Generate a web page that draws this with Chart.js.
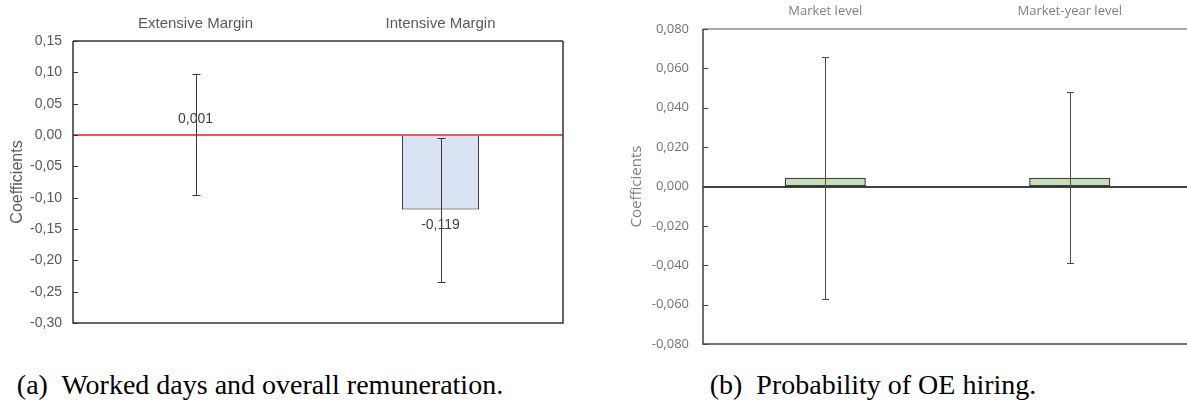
<!DOCTYPE html>
<html>
<head>
<meta charset="utf-8">
<script src="https://cdn.jsdelivr.net/npm/chart.js@4/dist/chart.umd.min.js"></script>
<style>
  html, body { margin: 0; padding: 0; background: #fff; }
  body { position: relative; width: 1187px; height: 405px; overflow: hidden; }
  .panel { position: absolute; top: 0; }
  #wrapA { left: 0; width: 600px; height: 335px; }
  #wrapB { left: 600px; width: 600px; height: 360px; }
  .cap {
    position: absolute; top: 371px;
    font-family: "Liberation Serif", serif; font-size: 28px; line-height: 1;
    white-space: pre; color: #000; transform: translateX(-50%);
  }
</style>
</head>
<body>
<div class="panel" id="wrapA"><canvas id="chartA"></canvas></div>
<div class="panel" id="wrapB"><canvas id="chartB"></canvas></div>
<div class="cap" style="left:260px">(a)  Worked days and overall remuneration.</div>
<div class="cap" style="left:873px">(b)  Probability of OE hiring.</div>

<script>
// (a) Worked days and overall remuneration
const marginCategories = ['Extensive Margin', 'Intensive Margin'];
const marginCoef = [0.001, -0.119];
const marginLow = [-0.095, -0.234];
const marginHigh = [0.097, -0.004];
const marginTickValues = [-0.30, -0.25, -0.20, -0.15, -0.10, -0.05, 0.00, 0.05, 0.10, 0.15];

// (b) Probability of OE hiring
const hiringCategories = ['Market level', 'Market-year level'];
const hiringCoef = [0.0045, 0.0045];
const hiringLow = [-0.057, -0.039];
const hiringHigh = [0.066, 0.048];
const hiringTickValues = [-0.080, -0.060, -0.040, -0.020, 0.000, 0.020, 0.040, 0.060, 0.080];

const commaFixed = (v, d) => v.toFixed(d).replace('.', ',');

// snap a coordinate so a line of the given width lands on whole pixels
const snap = (p, w) => (Math.round(w) % 2 === 1 ? Math.round(p) + 0.5 : Math.round(p));

// fixed-size value axis: the plot box is set by the layout padding alone
const fixAxisWidth = w => s => { s.width = w; s.paddingTop = 0; s.paddingBottom = 0; };

// Frame, zero line, inward tick marks, confidence whiskers and value labels
const decorations = {
  id: 'decorations',
  afterDatasetsDraw(chart, args, o) {
    const { ctx, chartArea: a, scales: { y } } = chart;
    const meta = chart.getDatasetMeta(0);
    const L = snap(a.left, o.frameWidth), R = snap(a.right, o.frameWidth);
    const T = snap(a.top, o.frameWidth), B = snap(a.bottom, o.frameWidth);
    ctx.save();

    // zero reference line
    const y0 = snap(y.getPixelForValue(0), o.zeroWidth);
    ctx.strokeStyle = o.zeroColor; ctx.lineWidth = o.zeroWidth;
    ctx.beginPath(); ctx.moveTo(L, y0); ctx.lineTo(R, y0); ctx.stroke();

    // plot frame
    ctx.lineWidth = o.frameWidth;
    ctx.strokeStyle = o.frameTop;
    ctx.beginPath(); ctx.moveTo(L, T); ctx.lineTo(R, T); ctx.stroke();
    ctx.strokeStyle = o.frameColor;
    ctx.beginPath();
    ctx.moveTo(R, T); ctx.lineTo(R, B); ctx.lineTo(L, B); ctx.lineTo(L, T);
    ctx.stroke();

    // tick marks pointing into the plot
    ctx.lineWidth = 1; ctx.strokeStyle = o.frameColor;
    y.ticks.forEach(t => {
      const py = snap(y.getPixelForValue(t.value), 1);
      ctx.beginPath(); ctx.moveTo(L, py); ctx.lineTo(L + 5, py); ctx.stroke();
    });

    // confidence interval whiskers
    ctx.strokeStyle = o.errColor; ctx.lineWidth = 1;
    meta.data.forEach((bar, i) => {
      const x = snap(bar.x, 1);
      const yl = snap(y.getPixelForValue(o.low[i]), 1);
      const yh = snap(y.getPixelForValue(o.high[i]), 1);
      ctx.beginPath();
      ctx.moveTo(x, yl); ctx.lineTo(x, yh);
      ctx.moveTo(x - o.cap, yl); ctx.lineTo(x + o.cap, yl);
      ctx.moveTo(x - o.cap, yh); ctx.lineTo(x + o.cap, yh);
      ctx.stroke();
    });

    // value labels beyond the bar end
    if (o.labels) {
      ctx.fillStyle = o.labelColor; ctx.font = o.labelFont;
      ctx.textAlign = 'center'; ctx.textBaseline = 'middle';
      meta.data.forEach((bar, i) => {
        const v = chart.data.datasets[0].data[i];
        const ly = v >= 0 ? bar.y - 15 : bar.y + 16;
        ctx.fillText(commaFixed(v, 3), bar.x, ly);
      });
    }
    ctx.restore();
  }
};

new Chart(document.getElementById('chartA'), {
  type: 'bar',
  data: {
    labels: marginCategories,
    datasets: [{
      data: marginCoef,
      backgroundColor: '#dae3f3',
      borderColor: '#1a1a1a',
      borderWidth: 1,
      categoryPercentage: 1,
      barPercentage: 0.315
    }]
  },
  options: {
    responsive: true, maintainAspectRatio: false, animation: false,
    layout: { padding: { left: 0, top: 0, right: 37, bottom: 12 } },
    plugins: {
      legend: { display: false }, tooltip: { enabled: false },
      decorations: {
        zeroColor: '#ee5555', zeroWidth: 2,
        frameColor: '#333333', frameTop: '#333333', frameWidth: 1.5,
        errColor: '#3a3a3a', cap: 4,
        low: marginLow, high: marginHigh,
        labels: true, labelColor: '#404040', labelFont: '14px "Liberation Sans", Arial, sans-serif'
      }
    },
    scales: {
      x: {
        position: 'top',
        grid: { display: false, drawTicks: false },
        border: { display: false },
        ticks: { color: '#595959', font: { family: '"Liberation Sans", Arial, sans-serif', size: 15 }, padding: 8, maxRotation: 0 },
        afterFit(s) { s.height = 41; }
      },
      y: {
        min: -0.30, max: 0.15,
        afterBuildTicks(s) { s.ticks = marginTickValues.map(v => ({ value: v })); },
        grid: { display: false, drawTicks: false },
        border: { display: false },
        ticks: { color: '#595959', font: { family: '"Liberation Sans", Arial, sans-serif', size: 14 }, padding: 11, callback: v => commaFixed(v, 2) },
        title: { display: true, text: 'Coefficients', color: '#595959', font: { family: '"Liberation Sans", Arial, sans-serif', size: 16 }, padding: { top: 8, bottom: 0 } },
        afterFit: fixAxisWidth(73)
      }
    }
  },
  plugins: [decorations]
});

new Chart(document.getElementById('chartB'), {
  type: 'bar',
  data: {
    labels: hiringCategories,
    datasets: [{
      data: hiringCoef,
      backgroundColor: '#c6e0b4',
      borderColor: '#404040',
      borderWidth: 1.5,
      borderSkipped: false,
      categoryPercentage: 1,
      barPercentage: 0.332
    }]
  },
  options: {
    responsive: true, maintainAspectRatio: false, animation: false,
    layout: { padding: { left: 0, top: 0, right: 8, bottom: 16 } },
    plugins: {
      legend: { display: false }, tooltip: { enabled: false },
      decorations: {
        zeroColor: '#000000', zeroWidth: 1.5,
        frameColor: '#404040', frameTop: '#8c8c8c', frameWidth: 1.5,
        errColor: '#4a4a4a', cap: 3.5,
        low: hiringLow, high: hiringHigh,
        labels: false
      }
    },
    scales: {
      x: {
        position: 'top',
        grid: { display: false, drawTicks: false },
        border: { display: false },
        ticks: { color: '#808080', font: { family: '"Open Sans", sans-serif', size: 13 }, padding: 10, maxRotation: 0 },
        afterFit(s) { s.height = 29; }
      },
      y: {
        min: -0.08, max: 0.08,
        afterBuildTicks(s) { s.ticks = hiringTickValues.map(v => ({ value: v })); },
        grid: { display: false, drawTicks: false },
        border: { display: false },
        ticks: { color: '#737373', font: { family: '"Open Sans", sans-serif', size: 13 }, padding: 14, callback: v => commaFixed(v, 3) },
        title: { display: true, text: 'Coefficients', color: '#808080', font: { family: '"Open Sans", sans-serif', size: 15 }, padding: { top: 28, bottom: 0 } },
        afterFit: fixAxisWidth(103)
      }
    }
  },
  plugins: [decorations]
});
</script>
</body>
</html>
